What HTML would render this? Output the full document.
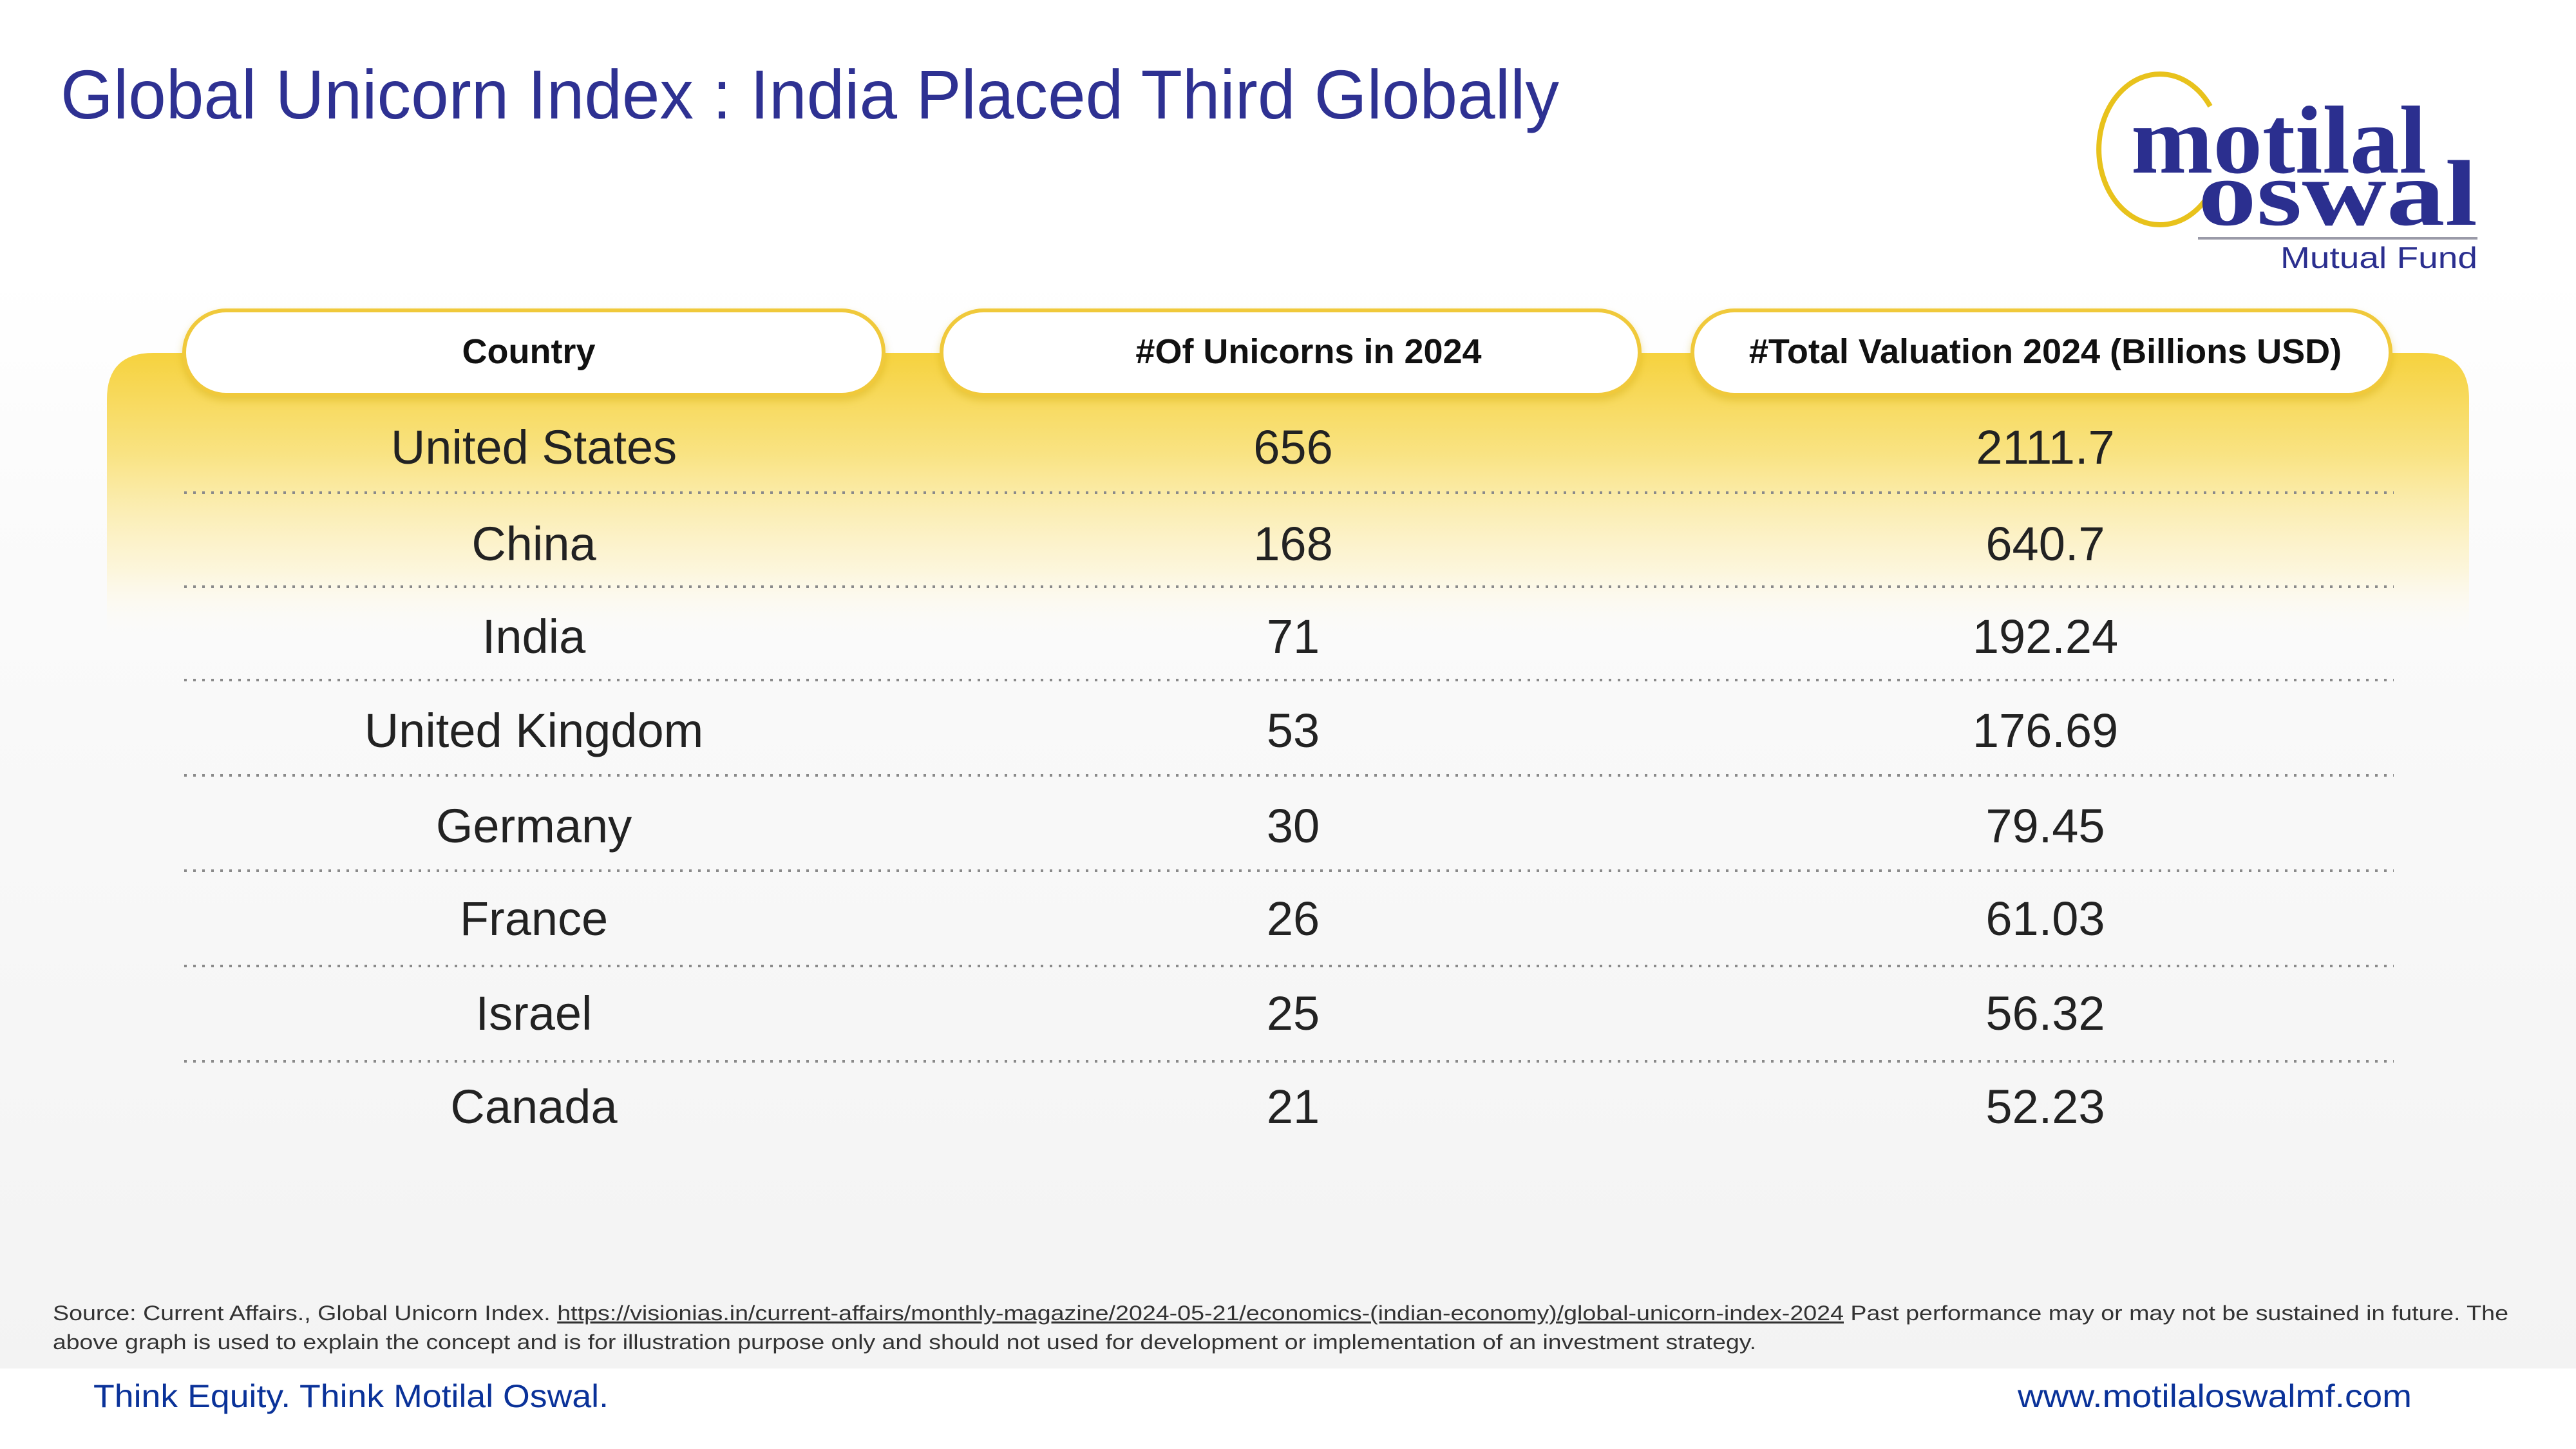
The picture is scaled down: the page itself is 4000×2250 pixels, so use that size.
<!DOCTYPE html>
<html><head><meta charset="utf-8"><style>
html,body{margin:0;padding:0;background:#fff;}
svg{display:block}
</style></head><body>
<svg width="4000" height="2250" viewBox="0 0 4000 2250" xmlns="http://www.w3.org/2000/svg">
<defs>
<linearGradient id="bg" x1="0" y1="0" x2="0" y2="1">
<stop offset="0" stop-color="#ffffff"/><stop offset="0.2" stop-color="#fbfbfb"/><stop offset="1" stop-color="#f3f3f3"/>
</linearGradient>
<linearGradient id="yel" x1="0" y1="0" x2="0" y2="1">
<stop offset="0" stop-color="#f6d23e"/><stop offset="0.35" stop-color="#f9e383"/><stop offset="0.75" stop-color="#fdf4cf" stop-opacity="0.7"/><stop offset="1" stop-color="#ffffff" stop-opacity="0"/>
</linearGradient>
<filter id="sh" x="-5%" y="-20%" width="110%" height="150%"><feDropShadow dx="0" dy="6" stdDeviation="6" flood-color="#c9a300" flood-opacity="0.35"/></filter>
</defs>
<rect x="0" y="430" width="4000" height="1700" fill="url(#bg)"/>
<rect x="0" y="0" width="4000" height="440" fill="#fff"/>
<!-- title -->
<text x="94" y="184" font-family="'Liberation Sans',sans-serif" font-size="108" fill="#2e3192" textLength="2327" lengthAdjust="spacingAndGlyphs">Global Unicorn Index : India Placed Third Globally</text>
<!-- logo -->
<path d="M3432,165 A95,117 0 1,0 3432,299" fill="none" stroke="#e8c21c" stroke-width="8"/>
<text x="3309" y="268" font-family="'Liberation Serif',serif" font-weight="bold" font-size="150" fill="#2b2f8f" textLength="459" lengthAdjust="spacingAndGlyphs">motilal</text>
<text x="3413" y="349" font-family="'Liberation Serif',serif" font-weight="bold" font-size="145" fill="#2b2f8f" textLength="434" lengthAdjust="spacingAndGlyphs">oswal</text>
<rect x="3413" y="368" width="434" height="4" fill="#9a9aa8"/>
<text x="3541" y="416" font-family="'Liberation Sans',sans-serif" font-size="46" fill="#2b2f8f" textLength="306" lengthAdjust="spacingAndGlyphs">Mutual Fund</text>
<!-- yellow band -->
<path d="M166,620 Q166,548 238,548 L3762,548 Q3834,548 3834,620 L3834,1000 L166,1000 Z" fill="url(#yel)"/>
<!-- pills -->
<g filter="url(#sh)" fill="#fff" stroke="#f0c93a" stroke-width="6">
<rect x="286" y="482" width="1086" height="131" rx="65"/>
<rect x="1462" y="482" width="1084" height="131" rx="65"/>
<rect x="2628" y="482" width="1084" height="131" rx="65"/>
</g>
<g font-family="'Liberation Sans',sans-serif" font-weight="bold" font-size="54" fill="#111" text-anchor="middle">
<text x="821" y="564">Country</text>
<text x="2032" y="564">#Of Unicorns in 2024</text>
<text x="3176" y="564">#Total Valuation 2024 (Billions USD)</text>
</g>
<!-- dotted lines -->
<g stroke="#8a8a8a" stroke-width="4" stroke-dasharray="4 10">
<line x1="286" y1="765" x2="3717" y2="765"/>
<line x1="286" y1="911" x2="3717" y2="911"/>
<line x1="286" y1="1056" x2="3717" y2="1056"/>
<line x1="286" y1="1204" x2="3717" y2="1204"/>
<line x1="286" y1="1352" x2="3717" y2="1352"/>
<line x1="286" y1="1500" x2="3717" y2="1500"/>
<line x1="286" y1="1648" x2="3717" y2="1648"/>
</g>
<g font-family="'Liberation Sans',sans-serif" font-size="74" fill="#222" text-anchor="middle">
<text x="829" y="720">United States</text><text x="2008" y="720">656</text><text x="3176" y="720">2111.7</text>
<text x="829" y="870">China</text><text x="2008" y="870">168</text><text x="3176" y="870">640.7</text>
<text x="829" y="1014">India</text><text x="2008" y="1014">71</text><text x="3176" y="1014">192.24</text>
<text x="829" y="1160">United Kingdom</text><text x="2008" y="1160">53</text><text x="3176" y="1160">176.69</text>
<text x="829" y="1308">Germany</text><text x="2008" y="1308">30</text><text x="3176" y="1308">79.45</text>
<text x="829" y="1452">France</text><text x="2008" y="1452">26</text><text x="3176" y="1452">61.03</text>
<text x="829" y="1599">Israel</text><text x="2008" y="1599">25</text><text x="3176" y="1599">56.32</text>
<text x="829" y="1744">Canada</text><text x="2008" y="1744">21</text><text x="3176" y="1744">52.23</text>
</g>
<!-- source -->
<g font-family="'Liberation Sans',sans-serif" font-size="32" fill="#333">
<text x="82" y="2050" textLength="3813" lengthAdjust="spacingAndGlyphs">Source: Current Affairs., Global Unicorn Index. <tspan text-decoration="underline">https://visionias.in/current-affairs/monthly-magazine/2024-05-21/economics-(indian-economy)/global-unicorn-index-2024</tspan>  Past performance may or may not be sustained in future. The</text>
<text x="82" y="2095" textLength="2645" lengthAdjust="spacingAndGlyphs">above graph is used to explain the concept and is for illustration purpose only and should not used for development or implementation of an investment strategy.</text>
</g>
<rect x="0" y="2125" width="4000" height="125" fill="#fff"/>
<g font-family="'Liberation Sans',sans-serif" font-size="50" fill="#0a3299">
<text x="145" y="2185" textLength="800" lengthAdjust="spacingAndGlyphs">Think Equity. Think Motilal Oswal.</text>
<text x="3133" y="2185" textLength="612" lengthAdjust="spacingAndGlyphs">www.motilaloswalmf.com</text>
</g>
</svg>
</body></html>
